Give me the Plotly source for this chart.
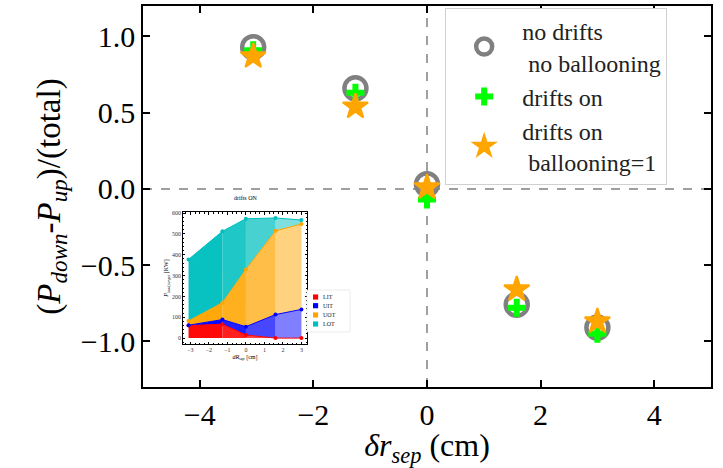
import numpy as np
import plotly.graph_objects as go

# ---- main panel data: up/down power asymmetry vs separatrix shift ----
dr_sep = [-3.06, -1.26, 0.0, 1.58, 3.0]
asym_no_drifts = [0.93, 0.66, 0.03, -0.76, -0.91]
asym_drifts_on = [0.91, 0.63, -0.07, -0.78, -0.95]
asym_ballooning = [0.87, 0.54, 0.01, -0.66, -0.87]

x_ticks = [-4, -2, 0, 2, 4]
x_ticktext = ["\u22124", "\u22122", "0", "2", "4"]
y_ticks = [-1.0, -0.5, 0.0, 0.5, 1.0]
y_ticktext = ["\u22121.0", "\u22120.5", "0.0", "0.5", "1.0"]

# ---- inset data: target loads with drifts on (kW) ----
dR_inset = [-3.1, -1.27, 0.0, 1.6, 3.0]
load_LIT = [60, 67, 15, 0, 0]
load_UIT = [2, 22, 40, 113, 138]
load_UOT = [20, 81, 275, 402, 410]
load_LOT = [296, 343, 243, 62, 19]
target_names = ["LIT", "UIT", "UOT", "LOT"]
target_rgb = [(255, 0, 0), (0, 0, 255), (255, 165, 0), (0, 191, 191)]
segment_alpha = [0.97, 0.88, 0.72, 0.5]

SERIF = "Liberation Serif, Times New Roman, serif"

fig = go.Figure()

# main panel markers
fig.add_trace(go.Scatter(
    x=dr_sep, y=asym_no_drifts, mode="markers",
    name="no drifts<br>\u00a0no ballooning",
    marker=dict(symbol="circle-open", size=22, color="#808080",
                line=dict(width=4.5, color="#808080")),
))
fig.add_trace(go.Scatter(
    x=dr_sep, y=asym_drifts_on, mode="markers", name="drifts on",
    marker=dict(symbol="cross", size=15, color="#00ff00",
                line=dict(width=0)),
))
fig.add_trace(go.Scatter(
    x=dr_sep, y=asym_ballooning, mode="markers",
    name="drifts on<br>\u00a0ballooning=1",
    marker=dict(symbol="star", size=19, color="#ffa500",
                line=dict(width=2, color="#ffa500")),
))

# inset: stacked areas, one shaded polygon per interval
loads = np.array([load_LIT, load_UIT, load_UOT, load_LOT], dtype=float)
tops = np.cumsum(loads, axis=0)
bottoms = np.vstack([np.zeros(len(dR_inset)), tops[:-1]])
for k in range(len(target_names)):
    r, g, b = target_rgb[k]
    for j in range(len(dR_inset) - 1):
        xs = [dR_inset[j], dR_inset[j + 1], dR_inset[j + 1], dR_inset[j], dR_inset[j]]
        ys = [bottoms[k, j], bottoms[k, j + 1], tops[k, j + 1], tops[k, j], bottoms[k, j]]
        fig.add_trace(go.Scatter(
            x=xs, y=ys, mode="lines", fill="toself",
            fillcolor=f"rgba({r},{g},{b},{segment_alpha[j]})",
            line=dict(width=0), hoverinfo="skip", showlegend=False,
            xaxis="x2", yaxis="y2",
        ))
for k in range(len(target_names)):
    r, g, b = target_rgb[k]
    fig.add_trace(go.Scatter(
        x=dR_inset, y=tops[k], mode="lines+markers",
        line=dict(width=1, color=f"rgb({r},{g},{b})"),
        marker=dict(size=4, color=f"rgb({r},{g},{b})"),
        showlegend=False, xaxis="x2", yaxis="y2",
    ))

# reference lines through the origin
fig.add_shape(type="line", xref="x", yref="y", x0=-5, x1=5, y0=0, y1=0,
              line=dict(color="#808080", width=1.5, dash="dash"), layer="below")
fig.add_shape(type="line", xref="x", yref="y", x0=0, x1=0, y0=-1.3, y1=1.2,
              line=dict(color="#808080", width=1.5, dash="dash"), layer="below")

# compact key for the inset (drawn with shapes/annotations to keep it tight)
key_x0, key_x1, key_y0, key_y1 = 0.2887, 0.3644, 0.1444, 0.2546
fig.add_shape(type="rect", xref="paper", yref="paper",
              x0=key_x0, x1=key_x1, y0=key_y0, y1=key_y1,
              line=dict(color="#dddddd", width=0.6), fillcolor="white")
key_rows = [0.833, 0.626, 0.405, 0.19]
for k, name in enumerate(target_names):
    r, g, b = target_rgb[k]
    yc = key_y0 + key_rows[k] * (key_y1 - key_y0)
    xc = key_x0 + 0.2 * (key_x1 - key_x0)
    fig.add_shape(type="rect", xref="paper", yref="paper",
                  x0=xc - 0.0045, x1=xc + 0.0045, y0=yc - 0.0068, y1=yc + 0.0068,
                  line=dict(width=0), fillcolor=f"rgb({r},{g},{b})")
    fig.add_annotation(text=name, xref="paper", yref="paper",
                       x=xc + 0.009, y=yc, xanchor="left", yanchor="middle",
                       showarrow=False,
                       font=dict(family=SERIF, size=6, color="#222222"))

fig.add_annotation(text="drifts ON", xref="paper", yref="paper",
                   x=0.18, y=0.497, showarrow=False, xanchor="center", yanchor="middle",
                   font=dict(family=SERIF, size=6, color="black"))

fig.update_layout(
    width=723, height=468,
    template="none",
    paper_bgcolor="white", plot_bgcolor="white",
    margin=dict(l=143, r=12, t=6, b=81),
    font=dict(family=SERIF, color="black"),
    xaxis=dict(
        range=[-5, 5], tickvals=x_ticks, ticktext=x_ticktext,
        ticks="inside", ticklen=7, tickwidth=1.5, tickcolor="black",
        showline=True, linewidth=1.5, linecolor="black", mirror="ticks",
        showgrid=False, zeroline=False,
        tickfont=dict(family=SERIF, size=30, color="black"),
        title=dict(text="<i>\u03b4r<sub>sep</sub></i> (cm)",
                   font=dict(family=SERIF, size=32, color="black"), standoff=6),
    ),
    yaxis=dict(
        range=[-1.3, 1.2], tickvals=y_ticks, ticktext=y_ticktext,
        ticks="inside", ticklen=7, tickwidth=1.5, tickcolor="black",
        showline=True, linewidth=1.5, linecolor="black", mirror="ticks",
        showgrid=False, zeroline=False,
        tickfont=dict(family=SERIF, size=30, color="black"),
        title=dict(text="(<i>P<sub>down</sub></i>-<i>P<sub>up</sub></i>)/(total)",
                   font=dict(family=SERIF, size=33, color="black"), standoff=10),
    ),
    xaxis2=dict(
        domain=[0.0704, 0.2887], anchor="y2", range=[-3.4, 3.3],
        tickvals=[-3, -2, -1, 0, 1, 2, 3],
        ticktext=["\u22123", "\u22122", "\u22121", "0", "1", "2", "3"],
        ticks="inside", ticklen=2.5, tickwidth=0.6, tickcolor="black",
        minor=dict(ticks="inside", ticklen=1.5, dtick=0.25, tickcolor="black", tickwidth=0.5),
        showline=True, linewidth=0.8, linecolor="black", mirror="ticks",
        showgrid=False, zeroline=False,
        tickfont=dict(family=SERIF, size=6, color="#333333"),
        title=dict(text="<i>dR<sub>sep</sub></i> [cm]",
                   font=dict(family=SERIF, size=6, color="black"), standoff=2),
    ),
    yaxis2=dict(
        domain=[0.113, 0.459], anchor="x2", range=[-28, 605],
        tickvals=[0, 100, 200, 300, 400, 500, 600],
        ticks="inside", ticklen=2.5, tickwidth=0.6, tickcolor="black",
        minor=dict(ticks="inside", ticklen=1.5, dtick=20, tickcolor="black", tickwidth=0.5),
        showline=True, linewidth=0.8, linecolor="black", mirror="ticks",
        showgrid=False, zeroline=False,
        tickfont=dict(family=SERIF, size=6, color="#333333"),
        title=dict(text="<i>P<sub>load,target</sub></i> [KW]",
                   font=dict(family=SERIF, size=6, color="black"), standoff=2),
    ),
    legend=dict(
        x=0.532, y=0.995, xanchor="left", yanchor="top",
        bgcolor="white", bordercolor="#d0d0d0", borderwidth=1,
        font=dict(family=SERIF, size=24, color="#222222"),
        itemwidth=66, tracegroupgap=2,
    ),
)

fig.write_html("out.html")
